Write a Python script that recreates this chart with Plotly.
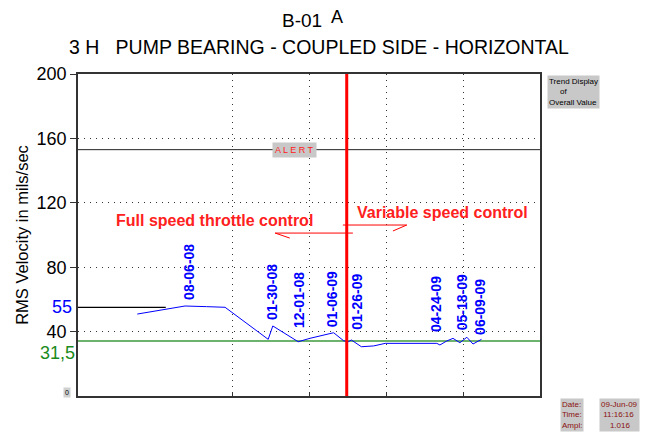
import plotly.graph_objects as go

# trend of overall value (x in chart divisions, y in mils/sec)
trend_x = [0.77, 1.39, 1.67, 1.91, 2.47, 2.53, 2.86, 3.01, 3.32, 3.45, 3.51, 3.55,
           3.68, 3.84, 3.99, 4.66, 4.70, 4.79, 4.87, 4.96, 5.05, 5.13, 5.24]
trend_y = [50.9, 55.9, 55.5, 55.1, 35.2, 43.5, 33.7, 35.8, 39.3, 34.3, 33.7, 34.8,
           30.6, 31.1, 32.7, 32.7, 31.7, 34.2, 35.8, 33.1, 36.5, 32.3, 35.2]

# measurement dates and where their labels sit
date_labels = ['08-06-08', '01-30-08', '12-01-08', '01-06-09', '01-26-09', '04-24-09', '05-18-09', '06-09-09']
date_x = [1.44, 2.52, 2.87, 3.30, 3.62, 4.65, 4.99, 5.22]
date_y = [77, 64.6, 59.6, 60.2, 58.4, 57.1, 58.4, 55.3]

alert_level = 153
limit_level = 34.2
ref_level = 55
control_change_x = 3.49
y_ticks = [40, 80, 120, 160, 200]

FONT = 'Liberation Sans, Arial, sans-serif'
DOTS = '1px,5px'

fig = go.Figure()

fig.add_trace(go.Scatter(x=trend_x, y=trend_y, mode='lines',
                         line=dict(color='#0000ff', width=1), hoverinfo='skip'))

# alert line, green limit line, short 55 marker
fig.add_shape(type='line', x0=0, x1=6, y0=alert_level, y1=alert_level, line=dict(color='#222', width=1))
fig.add_shape(type='line', x0=0, x1=6, y0=limit_level, y1=limit_level, line=dict(color='#3c9a3c', width=1.5),
              layer='below')
fig.add_shape(type='line', x0=0, x1=1.14, y0=ref_level, y1=ref_level, line=dict(color='#000', width=1.2))

# change of control mode
fig.add_shape(type='line', x0=control_change_x, x1=control_change_x, y0=0, y1=200,
              line=dict(color='#ff0000', width=3))

# half arrows
fig.add_shape(type='line', x0=2.56, x1=3.57, y0=101.2, y1=101.2, line=dict(color='#ff0000', width=1))
fig.add_shape(type='line', x0=2.56, x1=2.75, y0=101.2, y1=98.1, line=dict(color='#ff0000', width=1))
fig.add_shape(type='line', x0=3.44, x1=4.27, y0=106.2, y1=106.2, line=dict(color='#ff0000', width=1))
fig.add_shape(type='line', x0=4.27, x1=4.09, y0=106.2, y1=102.5, line=dict(color='#ff0000', width=1))

for lbl, lx, ly in zip(date_labels, date_x, date_y):
    fig.add_annotation(x=lx, y=ly, text=lbl, textangle=-90, showarrow=False,
                       font=dict(family=FONT, size=14, color='#0000ff', weight='bold'))

fig.add_annotation(x=1.77, y=108.7, text='Full speed throttle control', showarrow=False,
                   font=dict(family=FONT, size=16, color='#ff2020', weight='bold'))
fig.add_annotation(x=4.74, y=113.7, text='Variable speed control', showarrow=False,
                   font=dict(family=FONT, size=16, color='#ff2020', weight='bold'))

fig.add_annotation(x=2.81, y=alert_level, text='A L E R T', showarrow=False, bgcolor='#c8c8c8',
                   font=dict(family=FONT, size=9, color='#ff2020'), borderpad=2)

# left-side special labels
fig.add_annotation(xref='paper', x=0, y=ref_level, xanchor='right', xshift=-4, text='55', showarrow=False,
                   font=dict(family=FONT, size=18, color='#0000ff'))
fig.add_annotation(xref='paper', x=0, y=26.7, xanchor='right', xshift=-1, text='31,5', showarrow=False,
                   font=dict(family=FONT, size=18, color='#1a8a1a'))
fig.add_annotation(xref='paper', x=0, y=2, xanchor='right', xshift=-7, text='0', showarrow=False,
                   bgcolor='#d0d0d0', font=dict(family=FONT, size=7, color='#000'))

# side info boxes
fig.add_annotation(xref='paper', yref='paper', x=1.015, y=0.997, xanchor='left', yanchor='top',
                   text='Trend Display<br>     of<br>Overall Value', align='left', showarrow=False,
                   bgcolor='#c8c8c8', font=dict(family=FONT, size=8, color='#000'), borderpad=1)
fig.add_annotation(xref='paper', yref='paper', x=1.043, y=-0.005, xanchor='left', yanchor='top',
                   text='Date:<br>Time:<br>Ampl:', align='left', showarrow=False,
                   bgcolor='#c8c8c8', font=dict(family=FONT, size=8, color='#8b1010'), borderpad=1)
fig.add_annotation(xref='paper', yref='paper', x=1.128, y=-0.005, xanchor='left', yanchor='top',
                   text='09-Jun-09<br> 11:16:16<br>    1.016', align='left', showarrow=False,
                   bgcolor='#c8c8c8', font=dict(family=FONT, size=8, color='#8b1010'), borderpad=1)

# titles (positions relative to the plot box: left 78, top 74, 462 x 322 px in the page)
fig.add_annotation(xref='paper', yref='paper', x=(302 - 78) / 462, y=(396 - 21) / 322, yanchor='middle',
                   text='B-01', showarrow=False, font=dict(family=FONT, size=19, color='#000'))
fig.add_annotation(xref='paper', yref='paper', x=(337 - 78) / 462, y=(396 - 17) / 322, yanchor='middle',
                   text='A', showarrow=False, font=dict(family=FONT, size=18, color='#000'))
fig.add_annotation(xref='paper', yref='paper', x=(319 - 78) / 462, y=(396 - 47) / 322, yanchor='middle',
                   text='3 H   PUMP BEARING - COUPLED SIDE - HORIZONTAL', showarrow=False,
                   font=dict(family=FONT, size=19.5, color='#000'))

# page body adds an 8px offset, so the figure is 8px smaller and margins shifted
fig.update_layout(
    width=642, height=429,
    margin=dict(l=70, r=110, t=66, b=41),
    plot_bgcolor='white', paper_bgcolor='white',
    showlegend=False,
    font=dict(family=FONT, color='#000'),
)
fig.update_xaxes(range=[0, 6], tickvals=[2, 3, 4, 5], showticklabels=False, automargin=False,
                 showgrid=True, gridcolor='#333', griddash=DOTS, gridwidth=1,
                 showline=True, linecolor='#333', linewidth=1.5, mirror=True,
                 ticks='inside', ticklen=3, tickcolor='#333', zeroline=False)
fig.update_yaxes(range=[0, 200], tickvals=y_ticks, ticks='outside', ticklen=6, tickcolor='#333',
                 tickfont=dict(size=18, family=FONT, color='#000'), automargin=False,
                 showgrid=True, gridcolor='#333', griddash=DOTS, gridwidth=1,
                 showline=True, linecolor='#333', linewidth=1.5, mirror=True, zeroline=False,
                 title=dict(text='RMS Velocity in mils/sec', font=dict(size=16.5, family=FONT), standoff=4))

fig.write_html('out.html')
